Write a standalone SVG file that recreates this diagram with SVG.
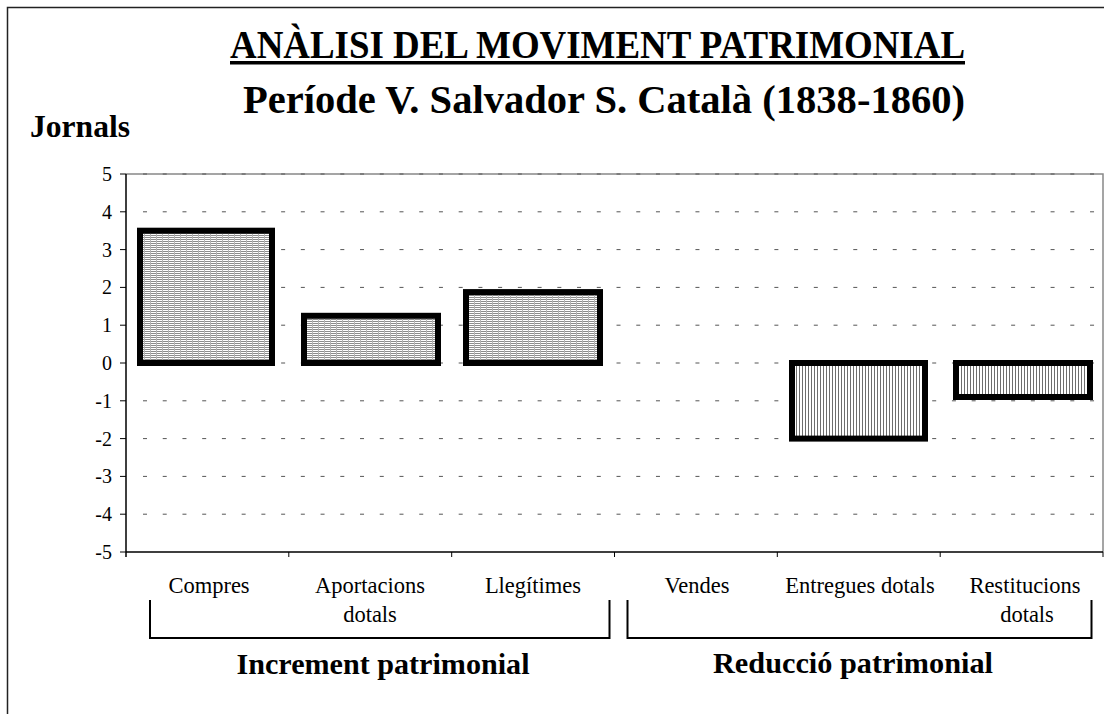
<svg xmlns="http://www.w3.org/2000/svg" width="1104" height="714" viewBox="0 0 1104 714">
  <defs>
    <pattern id="hpat" width="6" height="2" patternUnits="userSpaceOnUse">
      <rect width="6" height="2" fill="#ffffff"/>
      <rect x="0" y="1" width="6" height="1" fill="#8c8c8c"/>
      <rect x="0" y="0" width="1" height="2" fill="#b4b4b4"/>
    </pattern>
    <pattern id="vpat" width="3" height="4" patternUnits="userSpaceOnUse">
      <rect width="3" height="4" fill="#ffffff"/>
      <rect x="1" y="0" width="1" height="4" fill="#6e6e6e"/>
    </pattern>
    <style>
      .ttl { font-family: "Liberation Serif", "Times New Roman", serif; font-weight: bold; fill: #000; }
      .lbl { font-family: "Liberation Serif", "Times New Roman", serif; font-size: 22.5px; fill: #000; }
      .ylbl { font-family: "Liberation Serif", "Times New Roman", serif; font-size: 20px; fill: #000; text-anchor: end; }
      .grid { stroke: #555; stroke-width: 1; stroke-dasharray: 4 15.73; fill: none; }
      .axis { stroke: #000; stroke-width: 1.5; fill: none; }
      .frame { stroke: #888; stroke-width: 1.5; fill: none; }
      .bar { stroke: #000; stroke-width: 6; }
      .brk { stroke: #000; stroke-width: 2; fill: none; }
    </style>
  </defs>
  <rect width="1104" height="714" fill="#ffffff"/>
  <!-- outer chart border -->
  <path d="M7.5,714 V7.5 H1104" stroke="#222" stroke-width="1.5" fill="none"/>

  <!-- titles -->
  <g id="title">
    <text class="ttl" x="597.5" y="58" font-size="41" text-anchor="middle" textLength="735" lengthAdjust="spacingAndGlyphs">ANÀLISI DEL MOVIMENT PATRIMONIAL</text>
    <rect x="230" y="61" width="735" height="3.5" fill="#000"/>
    <text class="ttl" x="604" y="113" font-size="41" text-anchor="middle" textLength="722" lengthAdjust="spacingAndGlyphs">Període V. Salvador S. Català (1838-1860)</text>
  </g>
  <g id="yaxis-title">
    <text class="ttl" x="30" y="137" font-size="31" textLength="100" lengthAdjust="spacingAndGlyphs">Jornals</text>
  </g>

  <!-- plot frame and grid -->
  <g id="grid">
    <path class="frame" d="M126,174 H1103 V552"/>
    <path class="grid" d="M143,174 H1103 M143,211.8 H1103 M143,249.6 H1103 M143,287.4 H1103 M143,325.2 H1103 M143,363 H1103 M143,400.8 H1103 M143,438.6 H1103 M143,476.4 H1103 M143,514.2 H1103"/>
  </g>

  <!-- bars -->
  <g id="bar-compres"><rect class="bar" x="140" y="230.7" width="132" height="132.3" fill="url(#hpat)"/></g>
  <g id="bar-aportacions"><rect class="bar" x="304" y="315.8" width="134" height="47.2" fill="url(#hpat)"/></g>
  <g id="bar-llegitimes"><rect class="bar" x="466" y="292.1" width="134" height="70.9" fill="url(#hpat)"/></g>
  <g id="bar-entregues"><rect class="bar" x="792" y="363" width="133" height="75.6" fill="url(#vpat)"/></g>
  <g id="bar-restitucions"><rect class="bar" x="956" y="363" width="134" height="34" fill="url(#vpat)"/></g>

  <!-- axes -->
  <g id="axes">
    <path class="axis" d="M126,174 V557 M126,552 H1103"/>
    <path stroke="#000" stroke-width="1" d="M120,174 H126 M120,211.8 H126 M120,249.6 H126 M120,287.4 H126 M120,325.2 H126 M120,363 H126 M120,400.8 H126 M120,438.6 H126 M120,476.4 H126 M120,514.2 H126 M120,552 H126 M288.8,552 V557 M451.7,552 V557 M614.5,552 V557 M777.3,552 V557 M940.2,552 V557 M1103,552 V557"/>
    <text class="ylbl" x="112" y="181">5</text>
    <text class="ylbl" x="112" y="218.8">4</text>
    <text class="ylbl" x="112" y="256.6">3</text>
    <text class="ylbl" x="112" y="294.4">2</text>
    <text class="ylbl" x="112" y="332.2">1</text>
    <text class="ylbl" x="112" y="370">0</text>
    <text class="ylbl" x="112" y="407.8">-1</text>
    <text class="ylbl" x="112" y="445.6">-2</text>
    <text class="ylbl" x="112" y="483.4">-3</text>
    <text class="ylbl" x="112" y="521.2">-4</text>
    <text class="ylbl" x="112" y="559">-5</text>
  </g>

  <!-- category labels -->
  <g id="categories">
    <text class="lbl" x="209" y="593" text-anchor="middle">Compres</text>
    <text class="lbl" x="370" y="593" text-anchor="middle">Aportacions</text>
    <text class="lbl" x="370" y="622" text-anchor="middle">dotals</text>
    <text class="lbl" x="533" y="593" text-anchor="middle">Llegítimes</text>
    <text class="lbl" x="697" y="593" text-anchor="middle">Vendes</text>
    <text class="lbl" x="860" y="593" text-anchor="middle">Entregues dotals</text>
    <text class="lbl" x="1025" y="593" text-anchor="middle">Restitucions</text>
    <text class="lbl" x="1027" y="622" text-anchor="middle">dotals</text>
  </g>

  <!-- group brackets -->
  <g id="connectors">
    <path class="brk" d="M150,600 V638 H609.5 V600"/>
    <path class="brk" d="M627.5,600 V638 H1091.5 V600"/>
  </g>
  <g id="group-increment">
    <text class="ttl" x="383" y="674" font-size="30" text-anchor="middle" textLength="293" lengthAdjust="spacingAndGlyphs">Increment patrimonial</text>
  </g>
  <g id="group-reduccio">
    <text class="ttl" x="853" y="673" font-size="30" text-anchor="middle" textLength="280" lengthAdjust="spacingAndGlyphs">Reducció patrimonial</text>
  </g>
</svg>
